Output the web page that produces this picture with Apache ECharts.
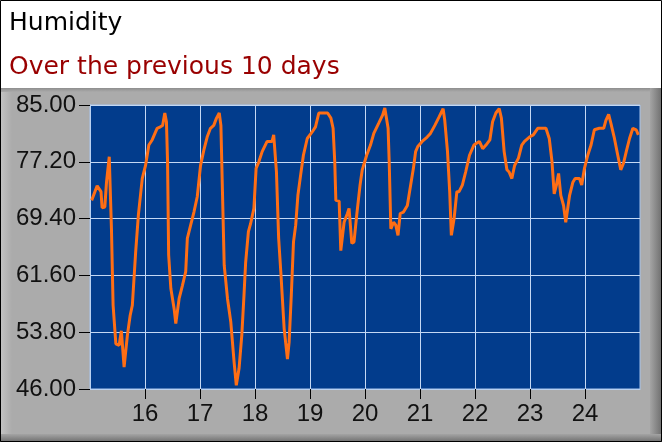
<!DOCTYPE html>
<html>
<head>
<meta charset="utf-8">
<script src="https://cdn.jsdelivr.net/npm/echarts@6/dist/echarts.min.js"></script>
<style>
  html, body { margin: 0; padding: 0; background: #fff; }
  #chart { width: 662px; height: 442px; }
</style>
</head>
<body>
<div id="chart"></div>
<script>
// time in days (day of month)
var days = [
  15.03, 15.13, 15.20, 15.22, 15.27, 15.30, 15.35, 15.39, 15.42, 15.47,
  15.53, 15.57, 15.62, 15.65, 15.68, 15.73, 15.77, 15.83, 15.88, 15.95,
  16.01, 16.07, 16.13, 16.22, 16.28, 16.32, 16.36, 16.39, 16.41, 16.43,
  16.47, 16.53, 16.56, 16.62, 16.68, 16.74, 16.77, 16.83, 16.89, 16.95,
  17.01, 17.07, 17.13, 17.19, 17.25, 17.30, 17.35, 17.38, 17.41, 17.44,
  17.50, 17.56, 17.62, 17.66, 17.71, 17.76, 17.80, 17.83, 17.88, 17.92,
  17.98, 18.02, 18.07, 18.13, 18.22, 18.31, 18.34, 18.39, 18.43, 18.47,
  18.53, 18.59, 18.62, 18.66, 18.70, 18.74, 18.78, 18.83, 18.88, 18.95,
  19.04, 19.10, 19.16, 19.32, 19.38, 19.42, 19.45, 19.47, 19.53, 19.56,
  19.62, 19.68, 19.71, 19.76, 19.80, 19.85, 19.91, 19.95, 20.03, 20.10,
  20.16, 20.25, 20.32, 20.36, 20.39, 20.42, 20.44, 20.47, 20.52, 20.56,
  20.60, 20.64, 20.70, 20.77, 20.83, 20.88, 20.92, 20.96, 21.04, 21.13,
  21.19, 21.27, 21.35, 21.42, 21.45, 21.50, 21.54, 21.57, 21.62, 21.67,
  21.71, 21.77, 21.83, 21.90, 21.98, 22.02, 22.08, 22.14, 22.20, 22.27,
  22.32, 22.38, 22.44, 22.48, 22.53, 22.58, 22.62, 22.67, 22.72, 22.79,
  22.85, 22.90, 22.99, 23.06, 23.14, 23.29, 23.35, 23.40, 23.44, 23.48,
  23.52, 23.56, 23.61, 23.65, 23.72, 23.78, 23.82, 23.90, 23.94, 23.99,
  24.05, 24.11, 24.17, 24.26, 24.34, 24.38, 24.43, 24.47, 24.53, 24.59,
  24.65, 24.70, 24.75, 24.81, 24.87, 24.93, 24.97
];
// humidity %
var humidity = [
  71.9, 73.9, 73.1, 70.9, 71.0, 74.4, 77.9, 68.0, 57.5, 52.2,
  52.0, 54.0, 49.0, 49.0, 53.4, 56.1, 57.5, 64.8, 69.9, 74.9,
  76.7, 79.5, 80.2, 81.8, 82.0, 82.2, 83.9, 82.7, 77.2, 64.4,
  59.8, 57.0, 55.0, 58.4, 60.2, 62.1, 66.7, 68.5, 70.3, 72.4,
  76.7, 78.8, 80.6, 81.8, 82.2, 83.2, 83.9, 82.2, 72.6, 63.0,
  58.4, 55.2, 49.7, 46.5, 48.8, 53.4, 58.9, 63.4, 67.6, 68.7,
  70.8, 76.3, 77.2, 78.6, 80.0, 80.0, 80.9, 75.8, 66.7, 62.0,
  54.3, 50.1, 52.4, 58.9, 66.2, 68.5, 72.6, 75.4, 78.1, 80.4,
  81.3, 82.0, 83.9, 83.9, 83.2, 81.8, 77.2, 71.9, 71.8, 65.0,
  68.9, 70.1, 70.8, 66.0, 66.2, 69.9, 74.0, 76.1, 78.1, 79.5,
  81.1, 82.5, 83.6, 84.6, 84.5, 81.8, 77.2, 68.0, 68.9, 68.5,
  67.1, 70.1, 70.3, 71.2, 74.0, 76.3, 78.6, 79.3, 80.0, 80.6,
  81.1, 82.2, 83.4, 84.5, 82.9, 78.6, 73.1, 67.1, 69.4, 73.1,
  73.1, 74.0, 75.8, 78.1, 79.5, 79.7, 80.0, 79.0, 79.5, 80.2,
  82.7, 83.9, 84.5, 83.2, 78.6, 76.1, 75.8, 74.9, 76.7, 77.7,
  79.5, 80.0, 80.6, 80.9, 81.8, 81.8, 80.4, 77.2, 72.8, 74.0,
  75.6, 72.6, 71.2, 68.9, 72.6, 74.4, 74.9, 74.9, 74.0, 76.3,
  78.1, 79.5, 81.6, 81.8, 81.8, 82.9, 83.7, 82.5, 80.6, 78.3,
  76.1, 77.0, 78.6, 80.4, 81.8, 81.6, 80.9
];
var dayLabels = [16, 17, 18, 19, 20, 21, 22, 23, 24];
var yMin = 46, yMax = 85, yStep = 7.8;

var chart = echarts.init(document.getElementById('chart'));

var points = days.map(function (d, i) { return [d, humidity[i]]; });

var option = {
  backgroundColor: '#ffffff',
  animation: false,
  title: [
    {
      text: 'Humidity',
      left: 4, top: 6,
      textStyle: { fontFamily: 'DejaVu Sans', fontSize: 25, fontWeight: 'normal', color: '#000' }
    },
    {
      text: 'Over the previous 10 days',
      left: 4, top: 50,
      textStyle: { fontFamily: 'DejaVu Sans', fontSize: 25, fontWeight: 'normal', color: '#990000' }
    }
  ],
  graphic: [
    // gray panel with bevel
    { type: 'rect', z: -10, shape: { x: 0, y: 88, width: 662, height: 354 }, style: { fill: '#ababab' } },
    { type: 'rect', z: -9, shape: { x: 0, y: 88, width: 12, height: 354 },
      style: { fill: new echarts.graphic.LinearGradient(0, 0, 1, 0, [{ offset: 0, color: '#c4c4c4' }, { offset: 1, color: '#ababab' }]) } },
    { type: 'rect', z: -9, shape: { x: 0, y: 88, width: 662, height: 4 },
      style: { fill: new echarts.graphic.LinearGradient(0, 0, 0, 1, [{ offset: 0, color: '#8e8e8e' }, { offset: 1, color: '#ababab' }]) } },
    { type: 'rect', z: -9, shape: { x: 650, y: 88, width: 12, height: 354 },
      style: { fill: new echarts.graphic.LinearGradient(0, 0, 1, 0, [{ offset: 0, color: '#a4a4a4' }, { offset: 1, color: '#6e6e6e' }]) } },
    { type: 'rect', z: -9, shape: { x: 0, y: 434, width: 662, height: 8 },
      style: { fill: new echarts.graphic.LinearGradient(0, 0, 0, 1, [{ offset: 0, color: '#a4a4a4' }, { offset: 1, color: '#6e6e6e' }]) } },
    // outer frame
    { type: 'rect', z: 100, shape: { x: 0.5, y: 0.5, width: 661, height: 441 }, style: { fill: 'none', stroke: '#000', lineWidth: 1 } }
  ],
  grid: {
    left: 90, right: 22, top: 105, bottom: 53,
    show: true,
    backgroundColor: '#023c8c',
    borderColor: '#a8c4ec',
    borderWidth: 1
  },
  xAxis: {
    type: 'value',
    min: 15, max: 25, interval: 1,
    axisLine: { lineStyle: { color: '#b8d0f0', width: 1 } },
    axisTick: { show: true, length: 10, customValues: dayLabels, lineStyle: { color: '#000' } },
    splitLine: { show: true, lineStyle: { color: '#c4d8f4', width: 1 } },
    axisLabel: {
      margin: 13,
      customValues: dayLabels,
      fontFamily: 'Liberation Sans', fontSize: 24, color: '#111',
      formatter: function (v) { return String(v); }
    }
  },
  yAxis: {
    type: 'value',
    min: yMin, max: yMax, interval: yStep,
    axisLine: { show: true, lineStyle: { color: '#b8d0f0', width: 1 } },
    axisTick: { show: true, length: 11, lineStyle: { color: '#000' } },
    splitLine: { show: true, lineStyle: { color: '#c4d8f4', width: 1 } },
    axisLabel: {
      margin: 14,
      fontFamily: 'Liberation Sans', fontSize: 24, color: '#111',
      formatter: function (v) { return v.toFixed(2); }
    }
  },
  series: [
    {
      type: 'line',
      data: points,
      showSymbol: false,
      smooth: false,
      lineStyle: { color: '#ff6e14', width: 3 },
      z: 5
    }
  ]
};

chart.setOption(option);
</script>
</body>
</html>
